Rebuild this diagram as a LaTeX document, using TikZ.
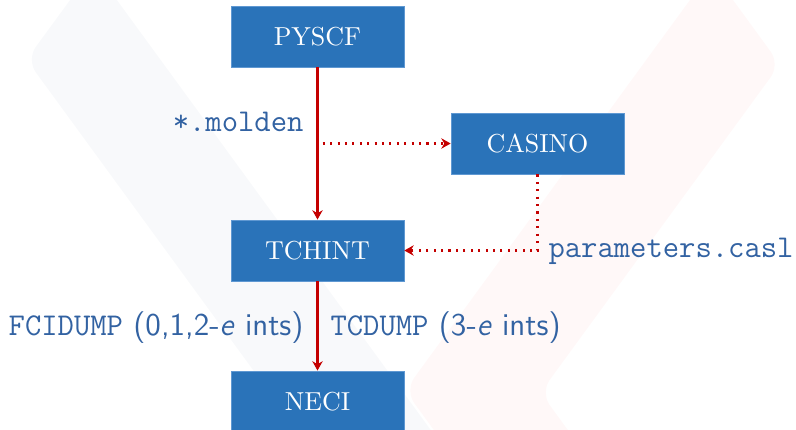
\documentclass[tikz,border=0pt]{standalone}
\usetikzlibrary{arrows.meta,calc}
\definecolor{boxblue}{RGB}{42,115,185}
\definecolor{boxedge}{RGB}{95,152,210}
\definecolor{labblue}{RGB}{50,98,162}
\definecolor{arrred}{RGB}{196,0,0}
\definecolor{wmgray}{RGB}{248,249,251}
\definecolor{wmpink}{RGB}{255,248,248}
\tikzset{
  prog/.style={rectangle, fill=boxblue, draw=boxedge, line width=0.3pt,
    minimum width=66.5pt, minimum height=23.5pt, inner sep=0pt,
    text=white, font=\normalsize},
  lab/.style={text=labblue, inner sep=0pt, font=\fontsize{12.2}{14}\selectfont},
  mainarrow/.style={draw=arrred, line width=1.15pt,
    -{Stealth[length=3.6pt,width=4pt]}},
  dotarrow/.style={draw=arrred, line width=0.8pt,
    dash pattern=on 0.8pt off 2.05pt,
    -{Stealth[length=3.6pt,width=4pt]}},
}
\begin{document}
\begin{tikzpicture}[x=0.3846pt,y=-0.3846pt]
\useasboundingbox (0,0) rectangle (796,430);
\begin{scope}
\clip (0,0) rectangle (796,430);
\fill[wmgray, rounded corners=6pt] (26.5,59.6) -- (93.5,-32) -- (558.5,605) -- (491.5,696.6) -- cycle;
\fill[wmpink, rounded corners=6pt] (711.5,-29.5) -- (780,64.4) -- (540.5,392.5) -- (627,511) -- (560,603) -- (405,390.4) -- cycle;
\end{scope}

\node[prog] (pyscf)  at (317.5,36.5)  {PYSCF};
\node[prog] (casino) at (537.5,143.5) {CASINO};
\node[prog] (tchint) at (317.5,250.5) {TCHINT};
\node[prog] (neci)   at (317.5,401.5) {NECI};

\coordinate (mfork) at ([xshift=2pt]pyscf.south |- casino.west);

\draw[mainarrow] (pyscf.south) -- (tchint.north);
\draw[dotarrow] (mfork) -- (casino.west);
\draw[dotarrow] (casino.south) |- (tchint.east);
\draw[mainarrow] (tchint.south) -- (neci.north);

\node[lab, anchor=base east] (molden) at (304,131) {\ttfamily *.molden};
\node[lab, anchor=base west] (casl) at (548,257) {\ttfamily parameters.casl};
\node[lab, anchor=base east] (fcid) at (304,335) {\sffamily\texttt{FCIDUMP} (0,1,2-\textit{e} ints)};
\node[lab, anchor=base west] (tcd) at (330,335) {\sffamily\texttt{TCDUMP} (3-\textit{e} ints)};
\end{tikzpicture}
\end{document}
